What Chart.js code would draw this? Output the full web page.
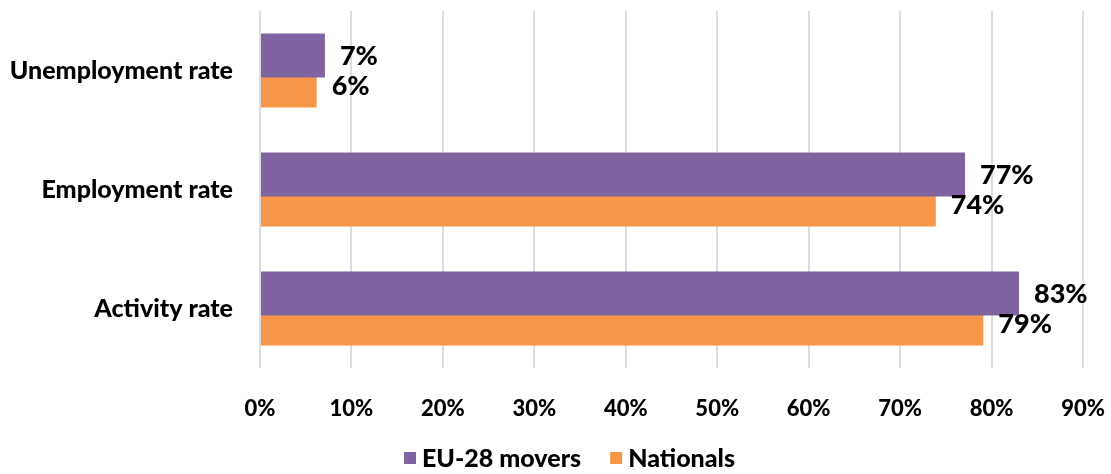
<!DOCTYPE html>
<html>
<head>
<meta charset="utf-8">
<script src="https://cdn.jsdelivr.net/npm/chart.js@4.4.0/dist/chart.umd.min.js"></script>
<style>
  html, body { margin: 0; padding: 0; background: #fff; }
  #cadre { width: 1111px; height: 474px; position: relative; }
</style>
</head>
<body>
<div id="cadre"><canvas id="graphique"></canvas></div>
<script>
const CATEGORIES = ["Unemployment rate", "Employment rate", "Activity rate"];
const MOVERS = [7.1, 77.1, 83.0];
const NATIONALS = [6.2, 73.9, 79.1];
const TICKS_X = [0, 10, 20, 30, 40, 50, 60, 70, 80, 90];

const POLICE = "Lato, 'Open Sans', sans-serif";
const GRAS = 900;

// Etiquettes de valeurs à droite des barres
const etiquettes = {
    id: 'etiquettes',
    afterDatasetsDraw(chart) {
        let ctx = chart.ctx;
        ctx.save();
        ctx.font = GRAS + " 27px " + POLICE;
        ctx.fillStyle = "#000";
        ctx.textAlign = "left";
        ctx.textBaseline = "middle";
        chart.data.datasets.forEach(function (ds, i) {
            let meta = chart.getDatasetMeta(i);
            meta.data.forEach(function (barre, j) {
                ctx.fillText(Math.round(ds.data[j]) + "%", barre.x + 15, barre.y + 1);
            });
        });
        ctx.restore();
    }
};

// Légende dessinée à la main (espacements façon Excel)
const legende = {
    id: 'legende',
    afterDraw(chart) {
        let ctx = chart.ctx;
        ctx.save();
        ctx.font = GRAS + " 25px " + POLICE;
        ctx.textBaseline = "middle";
        ctx.textAlign = "left";
        let items = chart.data.datasets;
        let total = 0;
        items.forEach(function (ds, i) {
            total += 12 + 6 + ctx.measureText(ds.label).width;
            if (i < items.length - 1) total += 29;
        });
        let x = 569.5 - total / 2;
        let y = 458;
        items.forEach(function (ds) {
            ctx.fillStyle = ds.backgroundColor;
            ctx.fillRect(x, y - 6, 12, 12);
            x += 18;
            ctx.fillStyle = "#000";
            ctx.fillText(ds.label, x, y + 1);
            x += ctx.measureText(ds.label).width + 29;
        });
        ctx.restore();
    }
};

new Chart(document.getElementById('graphique'), {
    type: 'bar',
    data: {
        labels: CATEGORIES,
        datasets: [
            { label: "EU-28 movers", data: MOVERS, backgroundColor: "#8064A2", borderColor: "#8064A2" },
            { label: "Nationals", data: NATIONALS, backgroundColor: "#F79646", borderColor: "#F79646" }
        ]
    },
    options: {
        indexAxis: 'y',
        responsive: true, maintainAspectRatio: false, animation: false,
        categoryPercentage: 0.504,
        barPercentage: 1.4667,
        layout: { padding: { top: 11, right: 28, bottom: 32, left: 0 } },
        plugins: {
            tooltip: { enabled: false },
            legend: { display: false }
        },
        scales: {
            x: {
                min: 0, max: 90,
                afterBuildTicks: function (scale) { scale.ticks = TICKS_X.map(function (v) { return { value: v }; }); },
                afterFit: function (scale) {
                    scale.height = 74;
                    scale.paddingLeft = 0;
                    scale.paddingRight = 0;
                },
                grid: { color: '#dcdcdc', lineWidth: 2, drawTicks: false },
                border: { display: false },
                ticks: {
                    padding: 28, color: '#000',
                    font: { family: POLICE, size: 22, weight: GRAS },
                    callback: function (v) { return v + "%"; }
                }
            },
            y: {
                afterFit: function (scale) {
                    scale.width = 260;
                    scale.paddingTop = 0;
                    scale.paddingBottom = 0;
                },
                grid: { display: false, drawTicks: false },
                border: { display: false },
                ticks: { padding: 27, color: '#000', font: { family: POLICE, size: 25, weight: GRAS } }
            }
        }
    },
    plugins: [etiquettes, legende]
});
</script>
</body>
</html>
